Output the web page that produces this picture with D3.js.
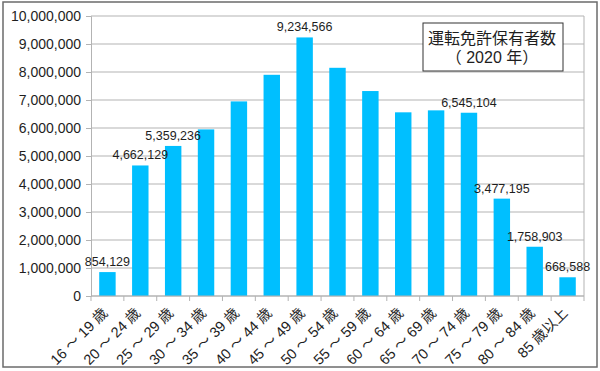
<!DOCTYPE html>
<html>
<head>
<meta charset="utf-8">
<script src="https://cdn.jsdelivr.net/npm/d3@7"></script>
<style>
  body { margin: 0; background: #fff; }
  svg { display: block; font-family: "Liberation Sans", "Noto Sans CJK JP", sans-serif; }
</style>
</head>
<body>
<svg id="chart" width="600" height="371"></svg>
<script>
//Age groups and number of license holders (2020)
const categories = [
  "16 ～ 19 歳", "20 ～ 24 歳", "25 ～ 29 歳", "30 ～ 34 歳", "35 ～ 39 歳",
  "40 ～ 44 歳", "45 ～ 49 歳", "50 ～ 54 歳", "55 ～ 59 歳", "60 ～ 64 歳",
  "65 ～ 69 歳", "70 ～ 74 歳", "75 ～ 79 歳", "80 ～ 84 歳", "85 歳以上"
];
const values = [
  854129, 4662129, 5359236, 5950000, 6950000,
  7900000, 9234566, 8150000, 7320000, 6560000,
  6630000, 6545104, 3477195, 1758903, 668588
];
//Which bars get a value label
const showLabel = [
  true, true, true, false, false,
  false, true, false, false, false,
  false, true, true, true, true
];
const yTicks = [0, 1e6, 2e6, 3e6, 4e6, 5e6, 6e6, 7e6, 8e6, 9e6, 1e7];
const titleLines = ["運転免許保有者数", "（ 2020 年）"];

const chart = {};
chart.left = 91;
chart.right = 584;
chart.top = 16;
chart.bottom = 296;

chart.svg = d3.select("#chart");

//Outer frame
chart.svg.append("rect")
  .attr("x", 3).attr("y", 2)
  .attr("width", 594).attr("height", 365)
  .attr("fill", "#fff")
  .attr("stroke", "#6b6b6b")
  .attr("stroke-width", 1.5);

chart.x = d3.scaleBand()
  .domain(categories)
  .range([chart.left, chart.right])
  .paddingInner(0.5)
  .paddingOuter(0.25);

chart.y = d3.scaleLinear()
  .domain([0, 1e7])
  .range([chart.bottom, chart.top]);

const fmt = d3.format(",");

//Horizontal grid lines
chart.svg.append("g")
  .selectAll("line")
  .data(yTicks)
  .join("line")
  .attr("x1", chart.left).attr("x2", chart.right)
  .attr("y1", (d) => chart.y(d)).attr("y2", (d) => chart.y(d))
  .attr("stroke", "#b3b3b3");

//Right edge of plot area
chart.svg.append("line")
  .attr("x1", chart.right).attr("x2", chart.right)
  .attr("y1", chart.top).attr("y2", chart.bottom)
  .attr("stroke", "#b3b3b3");

//Y axis
const yAxis = chart.svg.append("g")
  .attr("transform", "translate(" + chart.left + ",0)")
  .call(d3.axisLeft(chart.y).tickValues(yTicks).tickFormat(fmt).tickSize(5).tickPadding(5));
yAxis.select(".domain").attr("stroke", "#b3b3b3");
yAxis.selectAll(".tick line").attr("stroke", "#b3b3b3");
yAxis.selectAll("text")
  .attr("font-size", 14)
  .attr("font-family", "Liberation Sans, sans-serif")
  .attr("fill", "#1e1e1e");

//Bars
chart.svg.append("g")
  .selectAll("rect")
  .data(values)
  .join("rect")
  .attr("x", (d, i) => chart.x(categories[i]))
  .attr("y", (d) => chart.y(d))
  .attr("width", chart.x.bandwidth())
  .attr("height", (d) => chart.y(0) - chart.y(d))
  .attr("fill", "#00bfff");

//X axis: line and ticks at band boundaries
const step = chart.x.step();
const boundaries = d3.range(categories.length + 1).map((i) => chart.left + i * step);
chart.svg.append("line")
  .attr("x1", chart.left).attr("x2", chart.right)
  .attr("y1", chart.bottom).attr("y2", chart.bottom)
  .attr("stroke", "#b3b3b3");
chart.svg.append("g")
  .selectAll("line")
  .data(boundaries)
  .join("line")
  .attr("x1", (d) => d).attr("x2", (d) => d)
  .attr("y1", chart.bottom).attr("y2", chart.bottom + 5)
  .attr("stroke", "#b3b3b3");

//Rotated category labels
chart.svg.append("g")
  .selectAll("text")
  .data(categories)
  .join("text")
  .attr("transform", (d) =>
    "translate(" + (chart.x(d) + chart.x.bandwidth() / 2 + 1) + "," + (chart.bottom + 18) + ") rotate(-45)")
  .attr("text-anchor", "end")
  .attr("font-size", 14.5)
  .attr("fill", "#1e1e1e")
  .text((d) => d);

//Value labels above selected bars
chart.svg.append("g")
  .selectAll("text")
  .data(values.map((v, i) => ({ v, i })).filter((d) => showLabel[d.i]))
  .join("text")
  .attr("x", (d) => chart.x(categories[d.i]) + chart.x.bandwidth() / 2)
  .attr("y", (d) => chart.y(d.v) - 6)
  .attr("text-anchor", "middle")
  .attr("font-size", 12.5)
  .attr("fill", "#1e1e1e")
  .text((d) => fmt(d.v));

//Title box
const title = chart.svg.append("g");
title.append("rect")
  .attr("x", 423).attr("y", 23)
  .attr("width", 140).attr("height", 48)
  .attr("fill", "#fff")
  .attr("stroke", "#333")
  .attr("stroke-width", 1);
title.selectAll("text")
  .data(titleLines)
  .join("text")
  .attr("x", 492)
  .attr("y", (d, i) => 44 + i * 19)
  .attr("text-anchor", "middle")
  .attr("font-size", 16)
  .attr("fill", "#1e1e1e")
  .text((d) => d);
</script>
</body>
</html>
